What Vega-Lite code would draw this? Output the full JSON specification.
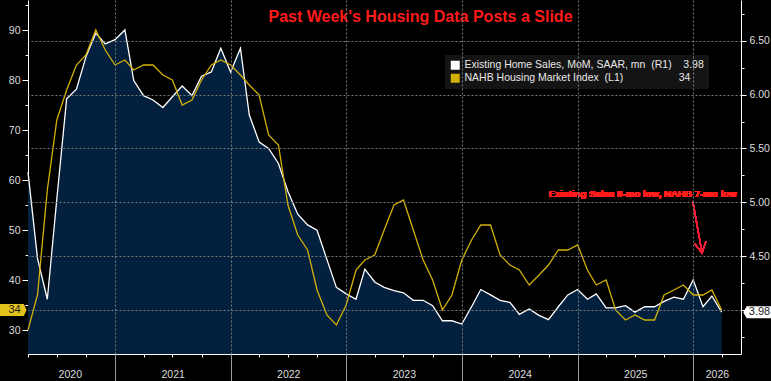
{
  "$schema": "https://vega.github.io/schema/vega-lite/v6.json",
  "width": 713,
  "height": 354,
  "autosize": {"type": "none"},
  "padding": {"left": 28, "top": 0, "right": 30, "bottom": 27},
  "background": "#000000",
  "title": {
    "text": "Past Week's Housing Data Posts a Slide",
    "color": "#ff1a1a",
    "font": "Liberation Sans",
    "fontSize": 16,
    "fontWeight": "bold",
    "anchor": "middle",
    "frame": "group",
    "baseline": "alphabetic",
    "offset": -20,
    "dx": 36,
    "dy": 18
  },
  "data": {
    "values": [
      {"date": "2020-04-01", "ehs": 5.28, "nahb": 30},
      {"date": "2020-05-01", "ehs": 4.48, "nahb": 37},
      {"date": "2020-06-01", "ehs": 4.10, "nahb": 58},
      {"date": "2020-07-01", "ehs": 5.03, "nahb": 72},
      {"date": "2020-08-01", "ehs": 5.96, "nahb": 78},
      {"date": "2020-09-01", "ehs": 6.05, "nahb": 83},
      {"date": "2020-10-01", "ehs": 6.35, "nahb": 85},
      {"date": "2020-11-01", "ehs": 6.57, "nahb": 90},
      {"date": "2020-12-01", "ehs": 6.47, "nahb": 86},
      {"date": "2021-01-01", "ehs": 6.51, "nahb": 83},
      {"date": "2021-02-01", "ehs": 6.60, "nahb": 84},
      {"date": "2021-03-01", "ehs": 6.13, "nahb": 82},
      {"date": "2021-04-01", "ehs": 5.99, "nahb": 83},
      {"date": "2021-05-01", "ehs": 5.95, "nahb": 83},
      {"date": "2021-06-01", "ehs": 5.88, "nahb": 81},
      {"date": "2021-07-01", "ehs": 5.98, "nahb": 80},
      {"date": "2021-08-01", "ehs": 6.08, "nahb": 75},
      {"date": "2021-09-01", "ehs": 5.99, "nahb": 76},
      {"date": "2021-10-01", "ehs": 6.17, "nahb": 80},
      {"date": "2021-11-01", "ehs": 6.21, "nahb": 83},
      {"date": "2021-12-01", "ehs": 6.43, "nahb": 84},
      {"date": "2022-01-01", "ehs": 6.21, "nahb": 83},
      {"date": "2022-02-01", "ehs": 6.43, "nahb": 81},
      {"date": "2022-03-01", "ehs": 5.81, "nahb": 79},
      {"date": "2022-04-01", "ehs": 5.56, "nahb": 77},
      {"date": "2022-05-01", "ehs": 5.50, "nahb": 69},
      {"date": "2022-06-01", "ehs": 5.36, "nahb": 67},
      {"date": "2022-07-01", "ehs": 5.10, "nahb": 55},
      {"date": "2022-08-01", "ehs": 4.89, "nahb": 49},
      {"date": "2022-09-01", "ehs": 4.79, "nahb": 46},
      {"date": "2022-10-01", "ehs": 4.74, "nahb": 38},
      {"date": "2022-11-01", "ehs": 4.47, "nahb": 33},
      {"date": "2022-12-01", "ehs": 4.21, "nahb": 31},
      {"date": "2023-01-01", "ehs": 4.15, "nahb": 35},
      {"date": "2023-02-01", "ehs": 4.10, "nahb": 42},
      {"date": "2023-03-01", "ehs": 4.38, "nahb": 44},
      {"date": "2023-04-01", "ehs": 4.26, "nahb": 45},
      {"date": "2023-05-01", "ehs": 4.21, "nahb": 50},
      {"date": "2023-06-01", "ehs": 4.18, "nahb": 55},
      {"date": "2023-07-01", "ehs": 4.16, "nahb": 56},
      {"date": "2023-08-01", "ehs": 4.09, "nahb": 50},
      {"date": "2023-09-01", "ehs": 4.09, "nahb": 44},
      {"date": "2023-10-01", "ehs": 4.04, "nahb": 40},
      {"date": "2023-11-01", "ehs": 3.90, "nahb": 34},
      {"date": "2023-12-01", "ehs": 3.90, "nahb": 37},
      {"date": "2024-01-01", "ehs": 3.87, "nahb": 44},
      {"date": "2024-02-01", "ehs": 4.03, "nahb": 48},
      {"date": "2024-03-01", "ehs": 4.19, "nahb": 51},
      {"date": "2024-04-01", "ehs": 4.14, "nahb": 51},
      {"date": "2024-05-01", "ehs": 4.09, "nahb": 45},
      {"date": "2024-06-01", "ehs": 4.07, "nahb": 43},
      {"date": "2024-07-01", "ehs": 3.96, "nahb": 42},
      {"date": "2024-08-01", "ehs": 4.01, "nahb": 39},
      {"date": "2024-09-01", "ehs": 3.95, "nahb": 41},
      {"date": "2024-10-01", "ehs": 3.91, "nahb": 43},
      {"date": "2024-11-01", "ehs": 4.03, "nahb": 46},
      {"date": "2024-12-01", "ehs": 4.14, "nahb": 46},
      {"date": "2025-01-01", "ehs": 4.19, "nahb": 47},
      {"date": "2025-02-01", "ehs": 4.10, "nahb": 42},
      {"date": "2025-03-01", "ehs": 4.15, "nahb": 39},
      {"date": "2025-04-01", "ehs": 4.02, "nahb": 40},
      {"date": "2025-05-01", "ehs": 4.02, "nahb": 34},
      {"date": "2025-06-01", "ehs": 4.04, "nahb": 32},
      {"date": "2025-07-01", "ehs": 3.98, "nahb": 33},
      {"date": "2025-08-01", "ehs": 4.03, "nahb": 32},
      {"date": "2025-09-01", "ehs": 4.03, "nahb": 32},
      {"date": "2025-10-01", "ehs": 4.08, "nahb": 37},
      {"date": "2025-11-01", "ehs": 4.12, "nahb": 38},
      {"date": "2025-12-01", "ehs": 4.10, "nahb": 39},
      {"date": "2026-01-01", "ehs": 4.28, "nahb": 37},
      {"date": "2026-02-01", "ehs": 4.03, "nahb": 37},
      {"date": "2026-03-01", "ehs": 4.13, "nahb": 38},
      {"date": "2026-04-01", "ehs": 3.98, "nahb": 34}
    ]
  },
  "layer": [
    {
      "mark": {"type": "area", "color": "#03203e", "opacity": 1},
      "encoding": {
        "x": {
          "field": "date", "type": "temporal",
          "scale": {"type": "utc", "domain": [{"year": 2020, "month": 4, "date": 1, "utc": true}, {"year": 2026, "month": 6, "date": 1, "utc": true}]},
          "axis": {"orient": "bottom", "title": null, "tickCount": {"interval": "month", "step": 3}, "labels": false, "grid": false, "ticks": true, "tickSize": 3, "tickColor": "#ffffff", "domain": true, "domainColor": "#ffffff", "domainWidth": 1}
        },
        "y": {
          "field": "ehs", "type": "quantitative",
          "scale": {"domain": [3.5915, 6.878], "zero": false, "nice": false},
          "axis": {"orient": "right", "title": null, "values": [4, 4.5, 5, 5.5, 6, 6.5], "format": ".2f", "labelExpr": "datum.value == 4 ? '' : datum.label", "tickSize": 5, "tickColor": "#ffffff", "labelPadding": 3, "labelColor": "#dedede", "labelFontSize": 10.5, "domain": true, "domainColor": "#ffffff", "grid": true, "gridColor": "#7a7a7a", "gridDash": [2, 2], "gridWidth": 1, "zindex": 1}
        },
        "y2": {"datum": 3.5915}
      }
    },
    {
      "mark": {"type": "line", "strokeWidth": 1.3},
      "encoding": {
        "x": {"field": "date", "type": "temporal", "scale": {"type": "utc", "domain": [{"year": 2020, "month": 4, "date": 1, "utc": true}, {"year": 2026, "month": 6, "date": 1, "utc": true}]}, "axis": null},
        "y": {"field": "ehs", "type": "quantitative", "scale": {"domain": [3.5915, 6.878], "zero": false, "nice": false}, "axis": null},
        "color": {
          "datum": "Existing Home Sales, MoM, SAAR, mn \u00a0(R1)\u00a0\u00a0\u00a0\u00a03.98",
          "type": "nominal",
          "scale": {"domain": ["Existing Home Sales, MoM, SAAR, mn \u00a0(R1)\u00a0\u00a0\u00a0\u00a03.98", "NAHB Housing Market Index \u00a0(L1)\u00a0\u00a0\u00a0\u00a0\u00a0\u00a0\u00a0\u00a0\u00a0\u00a0\u00a0\u00a0\u00a0\u00a0\u00a0\u00a0\u00a0\u00a0\u00a034"], "range": ["#ffffff", "#d3b106"]},
          "legend": {"orient": "none", "legendX": 417, "legendY": 55, "title": null, "fillColor": "#141414", "padding": 5, "symbolType": "square", "symbolSize": 20, "symbolStrokeWidth": 4.5, "symbolOpacity": 1, "labelColor": "#e8e8e8", "labelFontSize": 10.5, "labelFont": "Liberation Sans", "rowPadding": 2, "clipHeight": 10.7, "labelOffset": 4, "labelLimit": 400}
        }
      }
    },
    {
      "mark": {"type": "line", "strokeWidth": 1.3},
      "encoding": {
        "x": {
          "field": "date", "type": "temporal",
          "scale": {"type": "utc", "domain": [{"year": 2020, "month": 4, "date": 1, "utc": true}, {"year": 2026, "month": 6, "date": 1, "utc": true}]},
          "axis": {"orient": "bottom", "title": null, "tickCount": {"interval": "year", "step": 1}, "labels": false, "domain": false, "ticks": true, "tickSize": 27, "tickColor": "#9b9b9b", "grid": true, "gridColor": "#7a7a7a", "gridDash": [2, 2], "gridWidth": 1, "zindex": 1}
        },
        "y": {
          "field": "nahb", "type": "quantitative",
          "scale": {"domain": [25.2, 96], "zero": false, "nice": false},
          "axis": {"orient": "left", "title": null, "values": [30, 40, 50, 60, 70, 80, 90], "tickSize": 6, "tickColor": "#ffffff", "labelPadding": 2, "labelColor": "#dedede", "labelFontSize": 10.5, "domain": true, "domainColor": "#ffffff", "grid": false}
        },
        "color": {"datum": "NAHB Housing Market Index \u00a0(L1)\u00a0\u00a0\u00a0\u00a0\u00a0\u00a0\u00a0\u00a0\u00a0\u00a0\u00a0\u00a0\u00a0\u00a0\u00a0\u00a0\u00a0\u00a0\u00a034", "type": "nominal"}
      }
    },
    {
      "transform": [{"filter": "utcyear(datum.date) == 2026 && utcmonth(datum.date) == 3"}],
      "mark": {"type": "point", "shape": "M1,0L0.8,-0.45L-1,-0.45L-1,0.45L0.8,0.45Z", "filled": true, "fill": "#e3c21c", "opacity": 1, "strokeWidth": 0, "size": 702, "xOffset": -14.75},
      "encoding": {
        "x": {
          "datum": {"year": 2020, "month": 4, "date": 1, "utc": true}, "type": "temporal",
          "scale": {"type": "utc", "domain": [{"year": 2020, "month": 4, "date": 1, "utc": true}, {"year": 2026, "month": 6, "date": 1, "utc": true}]},
          "axis": {"orient": "bottom", "title": null, "values": [{"year": 2020, "month": 8, "date": 11, "utc": true}, {"year": 2021, "month": 7, "date": 2, "utc": true}, {"year": 2022, "month": 7, "date": 2, "utc": true}, {"year": 2023, "month": 7, "date": 2, "utc": true}, {"year": 2024, "month": 7, "date": 2, "utc": true}, {"year": 2025, "month": 7, "date": 2, "utc": true}, {"year": 2026, "month": 3, "date": 17, "utc": true}], "format": "%Y", "ticks": false, "tickSize": 0, "domain": false, "grid": false, "labelPadding": 15, "labelColor": "#dedede", "labelFontSize": 10.5, "labelOverlap": false, "labelFlush": false, "labelBound": false}
        },
        "y": {
          "field": "nahb", "type": "quantitative",
          "scale": {"domain": [25.2, 96], "zero": false, "nice": false},
          "axis": {"orient": "left", "title": null, "values": [35, 45, 55, 65, 75, 85, 95], "tickSize": 3, "tickColor": "#ffffff", "labels": false, "domain": false, "grid": false}
        }
      }
    },
    {
      "transform": [{"filter": "utcyear(datum.date) == 2026 && utcmonth(datum.date) == 3"}],
      "mark": {"type": "text", "color": "#1a1a1a", "fontSize": 11, "font": "Liberation Sans", "align": "center", "baseline": "middle", "dx": -13.5},
      "encoding": {
        "x": {"datum": {"year": 2020, "month": 4, "date": 1, "utc": true}, "type": "temporal", "scale": {"type": "utc", "domain": [{"year": 2020, "month": 4, "date": 1, "utc": true}, {"year": 2026, "month": 6, "date": 1, "utc": true}]}, "axis": null},
        "y": {"field": "nahb", "type": "quantitative", "scale": {"domain": [25.2, 96], "zero": false, "nice": false}, "axis": null},
        "text": {"field": "nahb", "type": "quantitative", "format": "d"}
      }
    },
    {
      "transform": [{"filter": "utcyear(datum.date) == 2026 && utcmonth(datum.date) == 3"}],
      "mark": {"type": "point", "shape": "M-1,0L-0.76,-0.43L1,-0.43L1,0.43L-0.76,0.43Z", "filled": true, "fill": "#ffffff", "opacity": 1, "strokeWidth": 0, "size": 784, "xOffset": 16.3},
      "encoding": {
        "x": {"datum": {"year": 2026, "month": 6, "date": 1, "utc": true}, "type": "temporal", "scale": {"type": "utc", "domain": [{"year": 2020, "month": 4, "date": 1, "utc": true}, {"year": 2026, "month": 6, "date": 1, "utc": true}]}, "axis": null},
        "y": {
          "field": "ehs", "type": "quantitative",
          "scale": {"domain": [3.5915, 6.878], "zero": false, "nice": false},
          "axis": {"orient": "right", "title": null, "values": [3.75, 4.25, 4.75, 5.25, 5.75, 6.25, 6.75], "tickSize": 3, "tickColor": "#ffffff", "labels": false, "domain": false, "grid": false}
        }
      }
    },
    {
      "transform": [{"filter": "utcyear(datum.date) == 2026 && utcmonth(datum.date) == 3"}],
      "mark": {"type": "text", "color": "#1a1a1a", "fontSize": 11, "font": "Liberation Sans", "align": "center", "baseline": "middle", "dx": 18.5},
      "encoding": {
        "x": {"datum": {"year": 2026, "month": 6, "date": 1, "utc": true}, "type": "temporal", "scale": {"type": "utc", "domain": [{"year": 2020, "month": 4, "date": 1, "utc": true}, {"year": 2026, "month": 6, "date": 1, "utc": true}]}, "axis": null},
        "y": {"field": "ehs", "type": "quantitative", "scale": {"domain": [3.5915, 6.878], "zero": false, "nice": false}, "axis": null},
        "text": {"field": "ehs", "type": "quantitative", "format": ".2f"}
      }
    },
    {
      "mark": {"type": "text", "text": "Existing Sales 9-mo low, NAHB 7-mo low", "color": "#ff1f1f", "fontSize": 9.7, "fontWeight": "bold", "font": "Liberation Sans", "align": "center", "baseline": "alphabetic"},
      "encoding": {
        "x": {"datum": {"year": 2025, "month": 7, "date": 25, "utc": true}, "type": "temporal", "scale": {"type": "utc", "domain": [{"year": 2020, "month": 4, "date": 1, "utc": true}, {"year": 2026, "month": 6, "date": 1, "utc": true}]}, "axis": null},
        "y": {"datum": 5.045, "type": "quantitative", "scale": {"domain": [3.5915, 6.878], "zero": false, "nice": false}, "axis": null}
      }
    },
    {
      "mark": {"type": "rule", "color": "#f0203a", "strokeWidth": 1.2},
      "encoding": {
        "x": {"datum": {"year": 2025, "month": 12, "date": 31, "utc": true}, "type": "temporal", "scale": {"type": "utc", "domain": [{"year": 2020, "month": 4, "date": 1, "utc": true}, {"year": 2026, "month": 6, "date": 1, "utc": true}]}, "axis": null},
        "x2": {"datum": {"year": 2026, "month": 1, "date": 29, "utc": true}},
        "y": {"datum": 5.004, "type": "quantitative", "scale": {"domain": [3.5915, 6.878], "zero": false, "nice": false}, "axis": null},
        "y2": {"datum": 4.53}
      }
    },
    {
      "mark": {"type": "point", "shape": "M-0.55,-1L0,0L0.55,-1", "filled": false, "stroke": "#f0203a", "strokeWidth": 1.2, "opacity": 1, "size": 441, "angle": -10},
      "encoding": {
        "x": {"datum": {"year": 2026, "month": 1, "date": 29, "utc": true}, "type": "temporal", "scale": {"type": "utc", "domain": [{"year": 2020, "month": 4, "date": 1, "utc": true}, {"year": 2026, "month": 6, "date": 1, "utc": true}]}, "axis": null},
        "y": {"datum": 4.53, "type": "quantitative", "scale": {"domain": [3.5915, 6.878], "zero": false, "nice": false}, "axis": null}
      }
    }
  ],
  "resolve": {"scale": {"y": "independent"}, "axis": {"x": "independent", "y": "independent"}},
  "config": {
    "background": "#000000",
    "view": {"stroke": null},
    "font": "Liberation Sans",
    "axis": {"labelFont": "Liberation Sans", "labelFontSize": 10.5, "labelColor": "#dedede"}
  }
}
